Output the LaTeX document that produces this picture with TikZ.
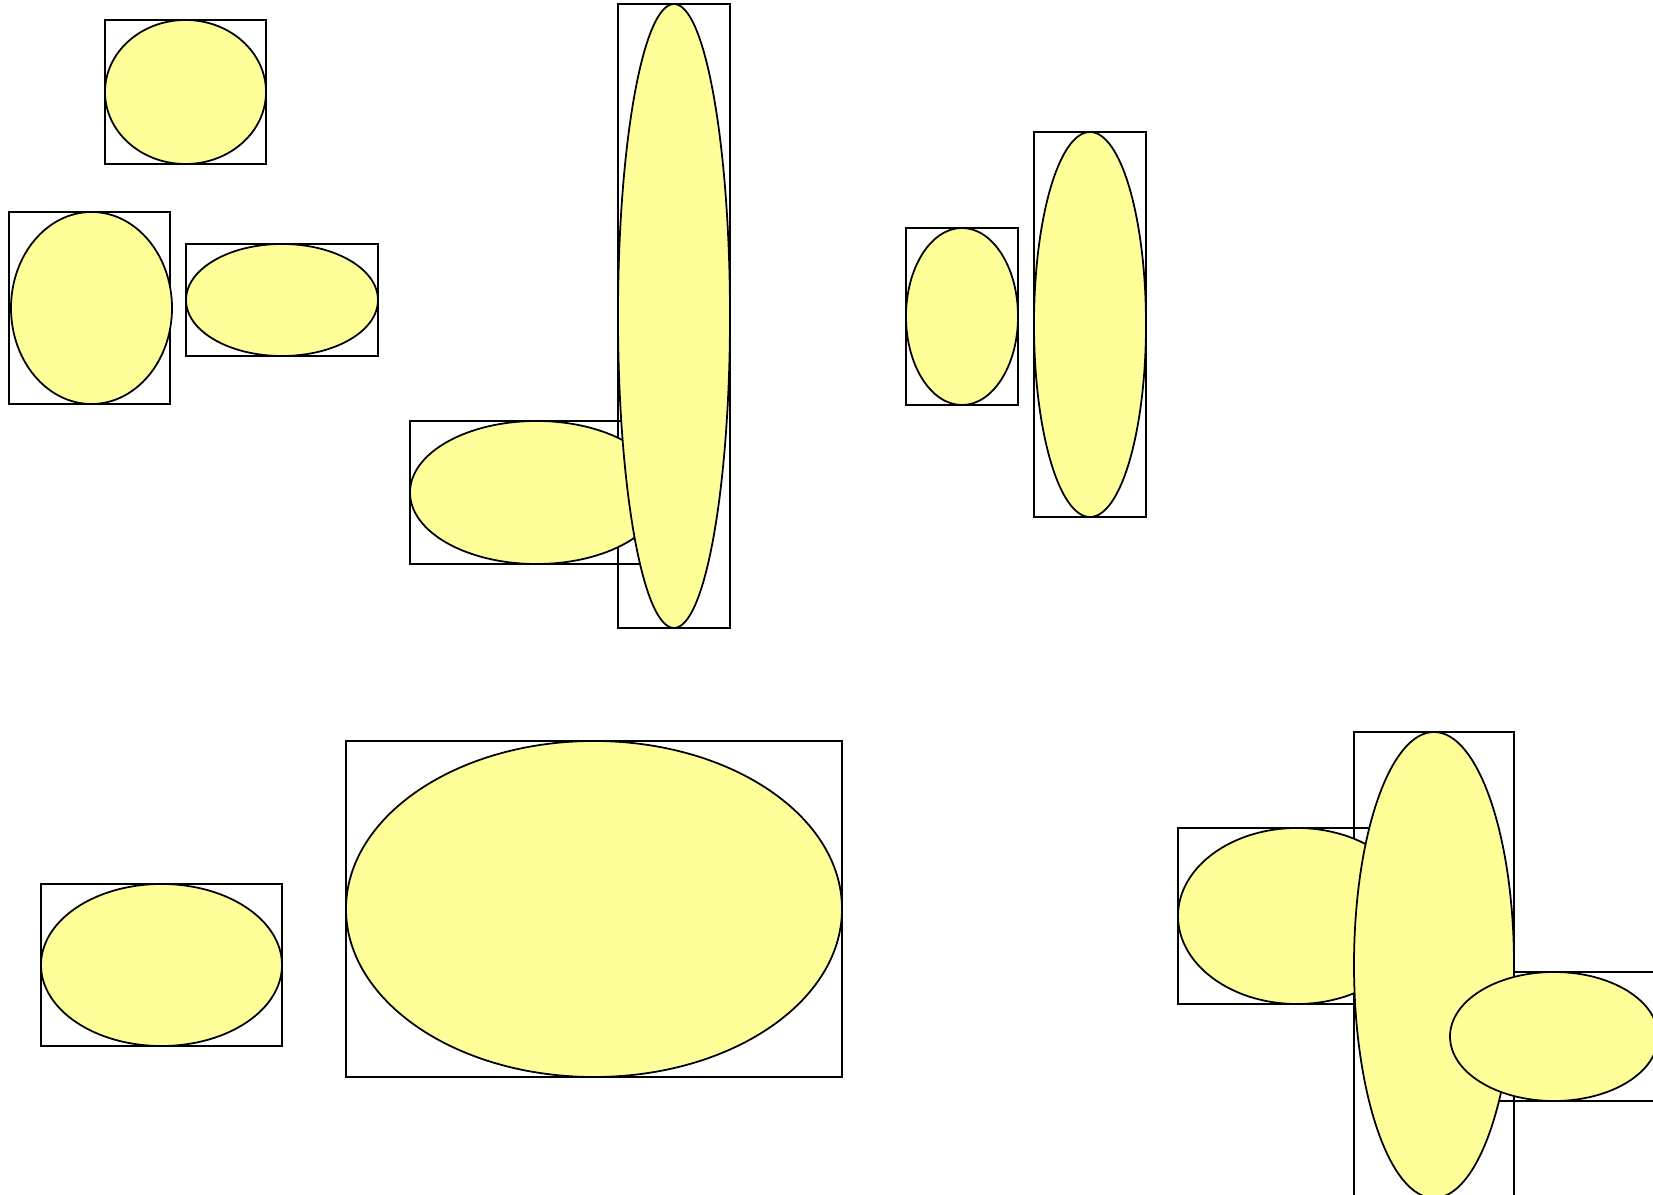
\documentclass[tikz,border=0pt]{standalone}
\usepackage{tikz}
\usepackage{xcolor}
\definecolor{blobYellow}{RGB}{255,255,153}
\tikzset{
  box/.style={draw=black,line width=1pt},
  blob/.style={draw=black,fill=blobYellow,line width=1pt}
}

\begin{document}
\begin{tikzpicture}[x=0.02cm,y=-0.02cm]
\useasboundingbox (0,0) rectangle (1653,1195);
\clip (0,0) rectangle (1653,1195);
% bounding boxes first
\foreach \xa/\ya/\xb/\yb in {105/20/266/164, 9/212/170/404, 186/244/378/356,
  410/421/663/564, 618/4/730/628, 906/228/1018/405, 1034/132/1146/517,
  41/884/282/1046, 346/741/842/1077, 1178/828/1416/1004, 1354/732/1514/1198,
  1450/972/1658/1101}
  \draw[box] (\xa,\ya) rectangle (\xb,\yb);
% then the ellipses on top
\foreach \xa/\ya/\xb/\yb in {105/20/266/164, 11/212/172/404, 186/244/378/356,
  410/421/663/564, 618/4/730/628, 906/228/1018/405, 1034/132/1146/517,
  41/884/282/1046, 346/741/842/1077, 1178/828/1416/1004, 1354/732/1514/1198,
  1450/972/1658/1101}
  \draw[blob] ({(\xa+\xb)/2},{(\ya+\yb)/2}) ellipse [x radius={(\xb-\xa)/2}, y radius={(\yb-\ya)/2}];
\end{tikzpicture}
\end{document}
